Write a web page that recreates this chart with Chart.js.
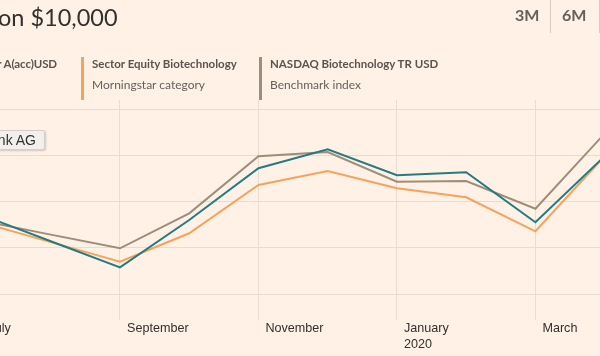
<!DOCTYPE html>
<html>
<head>
<meta charset="utf-8">
<script src="https://cdn.jsdelivr.net/npm/chart.js@4"></script>
<style>
  html, body { margin: 0; padding: 0; background: #fff1e5; }
  #wrap { position: relative; width: 600px; height: 356px; overflow: hidden; background: #fff1e5; }
  #c { position: absolute; left: 0; top: 0; }
  .t { position: absolute; white-space: nowrap; line-height: 1.2; }
  #title { left: -2px; top: 3px; font: 23.5px Lato, sans-serif; color: #33302e; }
  .btn { top: 5px; font: bold 16px Lato, sans-serif; color: #66605c; }
  .sep { position: absolute; top: 0; width: 1px; height: 33px; background: #d9cbbf; }
  .lb { font: bold 11.5px Lato, sans-serif; color: #5a5450; top: 57px; }
  .lr { font: 12px Lato, sans-serif; color: #66605c; top: 77px; }
  .bar { position: absolute; top: 57px; width: 3px; height: 43px; }
  #tip { position: absolute; left: -6px; top: 130px; width: 49px; height: 18px; background: #f2efed;
         border: 1px solid #d3cfcc; border-radius: 2px; box-shadow: 1px 1px 2px rgba(0,0,0,0.18); }
  #tiptxt { position: absolute; right: 8px; top: 1px; font: 14px "Liberation Sans", Arial, sans-serif; color: #33302e; white-space: nowrap; }
</style>
</head>
<body>
<div id="wrap">
  <canvas id="c" width="600" height="356"></canvas>
  <div class="t" id="title">on $10,000</div>
  <div class="t btn" style="left:515px">3M</div>
  <div class="sep" style="left:550px"></div>
  <div class="t btn" style="left:562px">6M</div>
  <div class="sep" style="left:599px"></div>

  <div class="t lb" style="right:543px; letter-spacing:-0.1px">r A(acc)USD</div>
  <div class="bar" style="left:81px;background:#f2a45f"></div>
  <div class="t lb" style="left:92px">Sector Equity Biotechnology</div>
  <div class="t lr" style="left:92px">Morningstar category</div>
  <div class="bar" style="left:259px;background:#9d8d7b"></div>
  <div class="t lb" style="left:270px">NASDAQ Biotechnology TR USD</div>
  <div class="t lr" style="left:270px">Benchmark index</div>

  <div id="tip"><div id="tiptxt">nk AG</div></div>
</div>
<script>
// Month index: 0 = July 2019 ... 9 = April 2020
const months = [0, 1, 2, 3, 4, 5, 6, 7, 8, 9];
const fundValues      = [9717, 9146, 8580, 9609, 10733, 11146, 10580, 10646, 9559, 10998];
const categoryValues  = [9555, 9128, 8702, 9320, 10370, 10674, 10298, 10102, 9363, 10993];
const benchmarkValues = [9591, 9291, 8993, 9754, 10993, 11087, 10441, 10457, 9854, 11487];
const tickMonths = [0, 2, 4, 6, 8];
const tickLabels = ['July', 'September', 'November', ['January', '2020'], 'March'];
const yGridValues = [8000, 9000, 10000, 11000, 12000];
const X_MIN = 0.267, X_MAX = 8.933, Y_MIN = 8000, Y_MAX = 12217;

const toPts = vals => months.map((m, i) => ({ x: m, y: vals[i] }));
const grid = '#e8dbcf';

new Chart(document.getElementById('c'), {
  type: 'line',
  data: {
    datasets: [
      { label: 'Fund', data: toPts(fundValues), borderColor: '#247b82', borderWidth: 2, pointRadius: 0, tension: 0, order: 1 },
      { label: 'Sector Equity Biotechnology', data: toPts(categoryValues), borderColor: '#f5a35c', borderWidth: 2, pointRadius: 0, tension: 0, order: 3 },
      { label: 'NASDAQ Biotechnology TR USD', data: toPts(benchmarkValues), borderColor: '#9d8d7b', borderWidth: 2, pointRadius: 0, tension: 0, order: 2 }
    ]
  },
  options: {
    responsive: false,
    animation: false,
    events: [],
    layout: { padding: { top: 100, left: 0, right: 0, bottom: 0 } },
    plugins: { legend: { display: false }, tooltip: { enabled: false } },
    scales: {
      x: {
        type: 'linear',
        bounds: 'data',
        min: X_MIN,
        max: X_MAX,
        afterBuildTicks: s => { s.ticks = tickMonths.map(v => ({ value: v })); s.min = X_MIN; s.max = X_MAX; },
        afterFit: s => { s.height = 62; s.paddingLeft = 0; s.paddingRight = 0; s.paddingTop = 0; s.paddingBottom = 0; },
        border: { display: false },
        grid: { color: grid, tickLength: 26, drawTicks: true },
        ticks: {
          autoSkip: false, maxRotation: 0, align: 'start', labelOffset: 7, padding: 0,
          color: '#33302e',
          font: { family: '"Liberation Sans", Arial, sans-serif', size: 12.6, lineHeight: 1.32 },
          callback: v => { const i = tickMonths.indexOf(v); return i >= 0 ? tickLabels[i] : ''; }
        }
      },
      y: {
        position: 'right',
        bounds: 'data',
        min: Y_MIN,
        max: Y_MAX,
        afterBuildTicks: s => { s.ticks = yGridValues.map(v => ({ value: v })); s.min = Y_MIN; s.max = Y_MAX; },
        afterFit: s => { s.width = 0; s.paddingLeft = 0; s.paddingRight = 0; s.paddingTop = 0; s.paddingBottom = 0; },
        border: { display: false },
        grid: { color: grid, drawTicks: false },
        ticks: { display: false }
      }
    }
  }
});
</script>
</body>
</html>
